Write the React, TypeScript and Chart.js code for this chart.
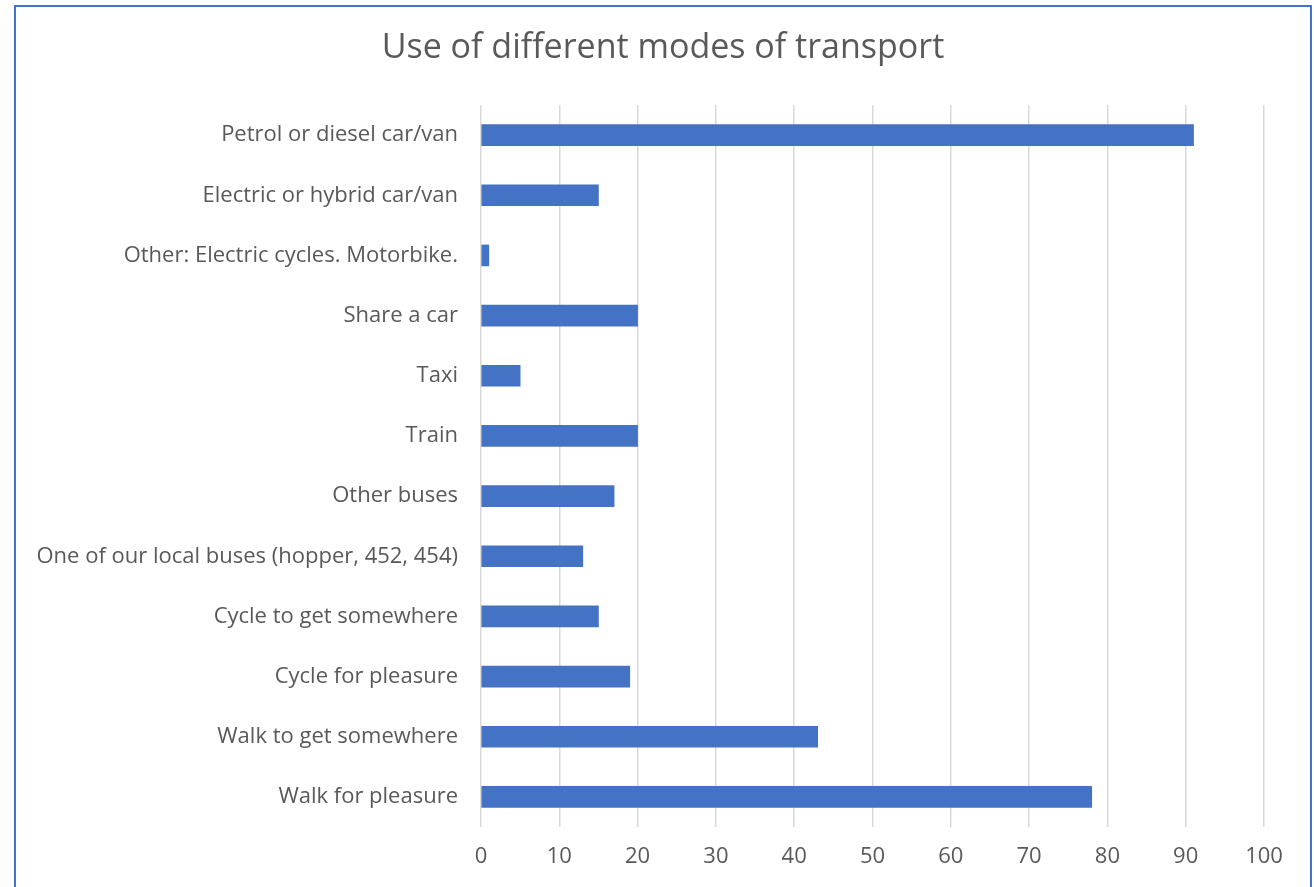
import React, { useEffect, useRef } from "react";
import { Chart, registerables } from "chart.js";

Chart.register(...registerables);

const categories = [
  "Petrol or diesel car/van",
  "Electric or hybrid car/van",
  "Other: Electric cycles. Motorbike.",
  "Share a car",
  "Taxi",
  "Train",
  "Other buses",
  "One of our local buses (hopper, 452, 454)",
  "Cycle to get somewhere",
  "Cycle for pleasure",
  "Walk to get somewhere",
  "Walk for pleasure",
];

const values = [91, 15, 1, 20, 5, 20, 17, 13, 15, 19, 43, 78];

const xTicks = [0, 10, 20, 30, 40, 50, 60, 70, 80, 90, 100];

const titleText = "Use of different modes of transport";

const W = 1314;
const H = 887;
const FONT = "'Open Sans', 'Noto Sans', sans-serif";

const titlePlugin = {
  id: "centeredTitle",
  afterDraw(chart: any) {
    const ctx = chart.ctx;
    ctx.save();
    ctx.font = `normal 34px ${FONT}`;
    ctx.fillStyle = "#595959";
    ctx.textAlign = "center";
    ctx.textBaseline = "middle";
    ctx.fillText(titleText, 663, 48);
    ctx.restore();
  },
};

export default function App() {
  const ref = useRef<HTMLCanvasElement | null>(null);

  useEffect(() => {
    if (!ref.current) return;
    const chart = new Chart(ref.current, {
      type: "bar",
      data: {
        labels: categories,
        datasets: [
          {
            data: values,
            backgroundColor: "#4472C4",
            barThickness: 21,
          },
        ],
      },
      plugins: [titlePlugin],
      options: {
        indexAxis: "y",
        animation: false,
        responsive: false,
        layout: { padding: { left: 0, right: 50, top: 105, bottom: 0 } },
        plugins: {
          legend: { display: false },
          tooltip: { enabled: false },
          title: { display: false },
        },
        scales: {
          x: {
            min: 0,
            max: 100,
            afterBuildTicks: (scale: any) => {
              scale.ticks = xTicks.map((v) => ({ value: v }));
            },
            afterFit: (scale: any) => {
              scale.height = H - 827;
            },
            grid: { color: "#d9d9d9", lineWidth: 1.5, drawTicks: false },
            border: { display: false },
            ticks: {
              color: "#595959",
              font: { family: FONT, size: 22 },
              padding: 17,
            },
          },
          y: {
            afterFit: (scale: any) => {
              scale.width = 481;
            },
            grid: { display: false, drawTicks: false },
            border: { display: false },
            ticks: {
              color: "#595959",
              font: { family: FONT, size: 22 },
              padding: 23,
              autoSkip: false,
            },
          },
        },
      },
    });
    return () => chart.destroy();
  }, []);

  return (
    <div style={{ position: "fixed", left: 0, top: 0, width: W, height: H, overflow: "hidden", background: "#fff" }}>
      <div
        style={{
          position: "absolute",
          left: 14,
          top: 5,
          width: 1298,
          height: 920,
          border: "2px solid #4472C4",
          boxSizing: "border-box",
        }}
      />
      <canvas ref={ref} width={W} height={H} style={{ position: "absolute", left: 0, top: 0, width: W, height: H }} />
    </div>
  );
}
